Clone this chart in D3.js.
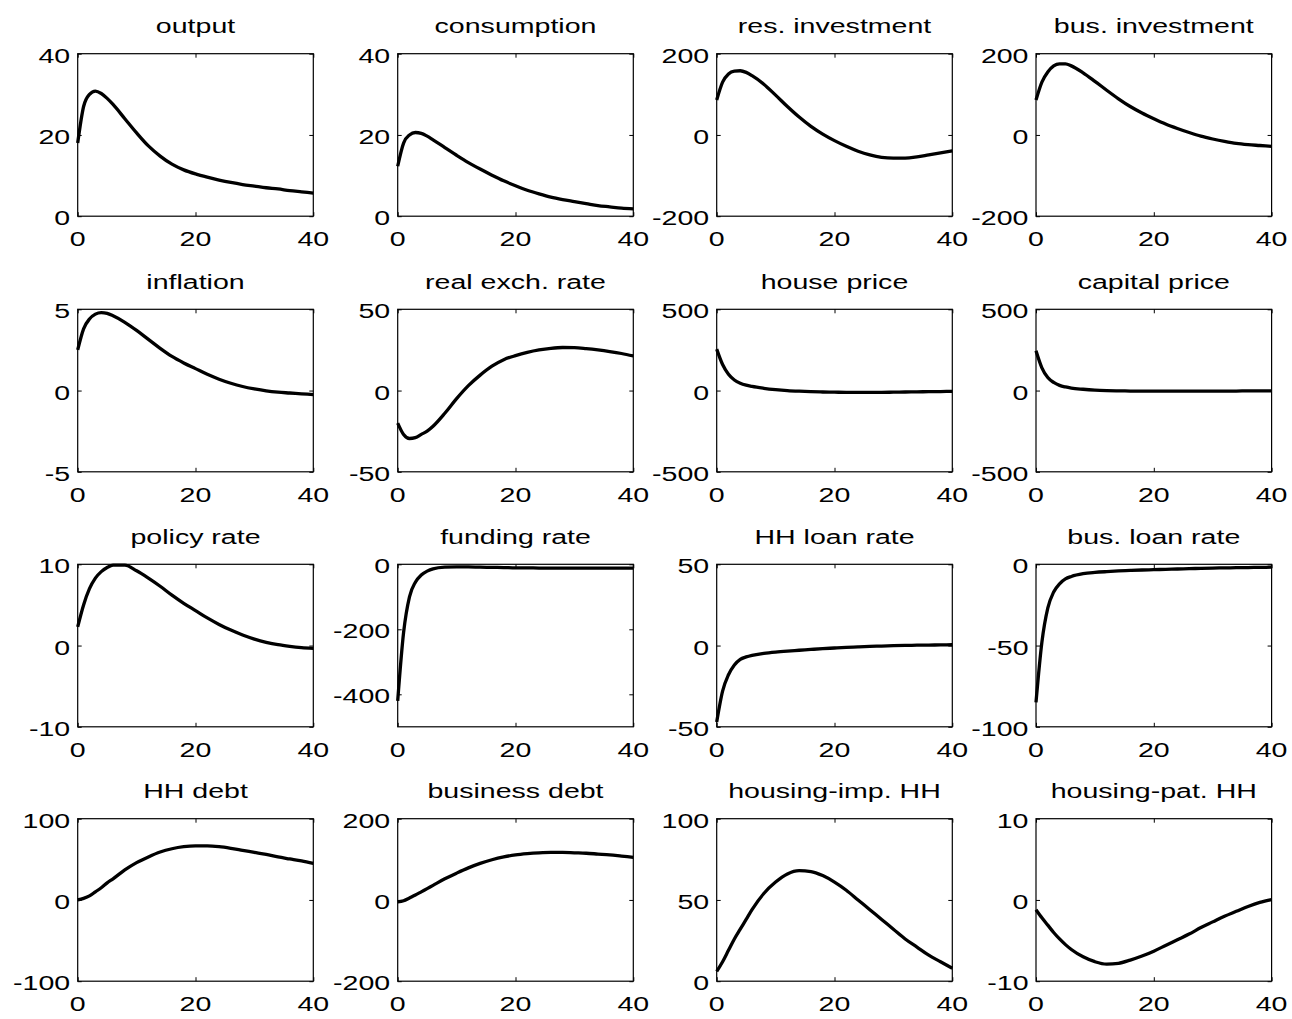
<!DOCTYPE html>
<html>
<head>
<meta charset="utf-8">
<script src="https://cdn.jsdelivr.net/npm/d3@7"></script>
<style>
  html, body { margin: 0; padding: 0; background: #fff; }
  svg { display: block; }
  text { font-family: "Liberation Sans", Arial, Helvetica, sans-serif; fill: #000; }
</style>
</head>
<body>
<svg id="chart" width="1292" height="1019"></svg>
<script>
// ---- data ----
const periods = [0,1,2,3,4,5,6,8,10,12,14,16,18,20,22,24,26,28,30,32,34,36,38,40];

const titles = [
  "output", "consumption", "res. investment", "bus. investment",
  "inflation", "real exch. rate", "house price", "capital price",
  "policy rate", "funding rate", "HH loan rate", "bus. loan rate",
  "HH debt", "business debt", "housing-imp. HH", "housing-pat. HH"
];

const yDomains = [
  [0, 40], [0, 40], [-200, 200], [-200, 200],
  [-5, 5], [-50, 50], [-500, 500], [-500, 500],
  [-10, 10], [-500, 0], [-50, 50], [-100, 0],
  [-100, 100], [-200, 200], [0, 100], [-10, 10]
];

const yTicks = [
  [0, 20, 40], [0, 20, 40], [-200, 0, 200], [-200, 0, 200],
  [-5, 0, 5], [-50, 0, 50], [-500, 0, 500], [-500, 0, 500],
  [-10, 0, 10], [-400, -200, 0], [-50, 0, 50], [-100, -50, 0],
  [-100, 0, 100], [-200, 0, 200], [0, 50, 100], [-10, 0, 10]
];

const xTicks = [0, 20, 40];

const output       = [18,27,30,30.8,30.2,29,27.5,24,20.5,17.3,14.8,12.8,11.4,10.4,9.6,8.9,8.3,7.8,7.4,7.0,6.7,6.3,6.0,5.7];
const consumption  = [12.3,18,20,20.6,20.4,19.7,18.8,16.9,15,13.2,11.6,10.1,8.7,7.5,6.4,5.5,4.7,4.1,3.6,3.1,2.6,2.3,2.0,1.8];
const resInvest    = [86,130,150,157,158,154,146,125,98,70,44,21,2,-14,-28,-40,-49,-55,-57,-57,-54,-49,-44,-39];
const busInvest    = [86,130,155,170,175,175,170,153,132,110,89,70,54,40,27,16,6,-3,-10,-16,-21,-24,-26,-28];
const inflation    = [2.5,3.8,4.4,4.7,4.8,4.75,4.6,4.2,3.7,3.15,2.6,2.1,1.7,1.35,1.0,0.7,0.45,0.25,0.1,-0.02,-0.1,-0.15,-0.2,-0.25];
const realExch     = [-20,-27,-29.5,-29,-27,-25,-22,-14,-5,3,9.5,15,19,21.5,23.5,25,26,26.5,26.4,25.8,25,24,22.8,21.3];
const housePrice   = [255,160,100,65,45,33,25,14,6,0,-4,-7,-9,-10,-11,-11,-11,-11,-10,-9,-8,-7,-6,-5];
const capitalPrice = [245,140,80,50,32,22,15,8,3,0,-2,-3,-4,-4,-4,-4,-4,-4,-3,-3,-3,-2,-2,-2];
const policyRate   = [2.3,5,7,8.3,9.1,9.6,9.9,9.9,9.2,8.3,7.3,6.2,5.2,4.3,3.4,2.6,1.9,1.3,0.8,0.4,0.1,-0.1,-0.25,-0.35];
const fundingRate  = [-420,-210,-100,-55,-33,-21,-14,-9,-8,-8,-9,-9.5,-10,-11,-11,-11.5,-11.5,-12,-12,-12,-12,-12,-12,-12];
const hhLoanRate   = [-47,-28,-18,-12,-8.5,-7,-6,-4.8,-4,-3.4,-2.9,-2.4,-1.9,-1.5,-1.1,-0.8,-0.5,-0.3,-0.1,0.1,0.2,0.3,0.4,0.5];
const busLoanRate  = [-85,-48,-27,-17,-12,-9,-7.5,-5.8,-5,-4.5,-4.1,-3.8,-3.5,-3.3,-3.1,-2.9,-2.7,-2.5,-2.3,-2.2,-2.1,-2.0,-1.9,-1.8];
const hhDebt       = [0,2,5,10,15,21,26,37,46,53,59,63,65.5,66.5,66.5,65.5,63.5,61,58.5,56,53,50.5,48,45];
const busDebt      = [-5,-2,5,12,20,28,36,52,66,79,90,99,106,111,114,116,117,117,116,115,113,111,108,105];
const housingImp   = [6,12,19,26,32,38,44,54,61,66,68,67.5,65,61,56,50,44,38,32,26,21,16,12,8];
const housingPat   = [-1.2,-2.2,-3.1,-4,-4.8,-5.5,-6.1,-7,-7.6,-7.9,-7.8,-7.4,-6.9,-6.3,-5.6,-4.9,-4.2,-3.4,-2.7,-2.0,-1.4,-0.8,-0.3,0.05];

const series = [
  output, consumption, resInvest, busInvest,
  inflation, realExch, housePrice, capitalPrice,
  policyRate, fundingRate, hhLoanRate, busLoanRate,
  hhDebt, busDebt, housingImp, housingPat
];

// ---- layout ----
const colLeft = [77.7, 397.7, 716.7, 1036];
const rowTop = [53.7, 309.3, 564.3, 818.7];
const panelW = 235.6;
const panelH = 162.5;
const sx = 1.36;      // horizontal text stretch
const fontSize = 21;

const svg = d3.select("#chart");

function stretchedText(g, x, y, str, anchor) {
  g.append("text")
    .attr("transform", `translate(${x},${y}) scale(${sx},1)`)
    .attr("text-anchor", anchor)
    .style("font-size", fontSize + "px")
    .text(str);
}

series.forEach((vals, i) => {
  const r = Math.floor(i / 4), c = i % 4;
  const g = svg.append("g").attr("transform", `translate(${colLeft[c]},${rowTop[r]})`);

  const x = d3.scaleLinear().domain([0, 40]).range([0, panelW]);
  const y = d3.scaleLinear().domain(yDomains[i]).range([panelH, 0]);

  // inward tick marks on all four sides
  const axes = [
    [d3.axisBottom(x).tickValues(xTicks), `translate(0,${panelH})`],
    [d3.axisTop(x).tickValues(xTicks), `translate(0,0)`],
    [d3.axisLeft(y).tickValues(yTicks[i]), `translate(0,0)`],
    [d3.axisRight(y).tickValues(yTicks[i]), `translate(${panelW},0)`]
  ];
  axes.forEach(([ax, tr]) => {
    const ag = g.append("g").attr("transform", tr)
      .call(ax.tickSizeInner(-4).tickSizeOuter(0).tickFormat(""));
    ag.select(".domain").remove();
    ag.selectAll("line").attr("stroke", "#000").attr("stroke-width", 1);
  });

  // box
  g.append("rect")
    .attr("x", 0).attr("y", 0)
    .attr("width", panelW).attr("height", panelH)
    .attr("fill", "none").attr("stroke", "#000").attr("stroke-width", 1.2);

  // tick labels
  xTicks.forEach(t => stretchedText(g, x(t), panelH + 30, String(t), "middle"));
  yTicks[i].forEach(t => stretchedText(g, -7.5, y(t) + 9, String(t), "end"));

  // title
  stretchedText(g, panelW / 2, -20.5, titles[i], "middle");

  // line
  const line = d3.line()
    .x((d, k) => x(periods[k]))
    .y(d => y(d))
    .curve(d3.curveMonotoneX);
  g.append("path")
    .datum(vals)
    .attr("d", line)
    .attr("fill", "none")
    .attr("stroke", "#000")
    .attr("stroke-width", 3.3)
    .attr("stroke-linejoin", "round");
});
</script>
</body>
</html>
